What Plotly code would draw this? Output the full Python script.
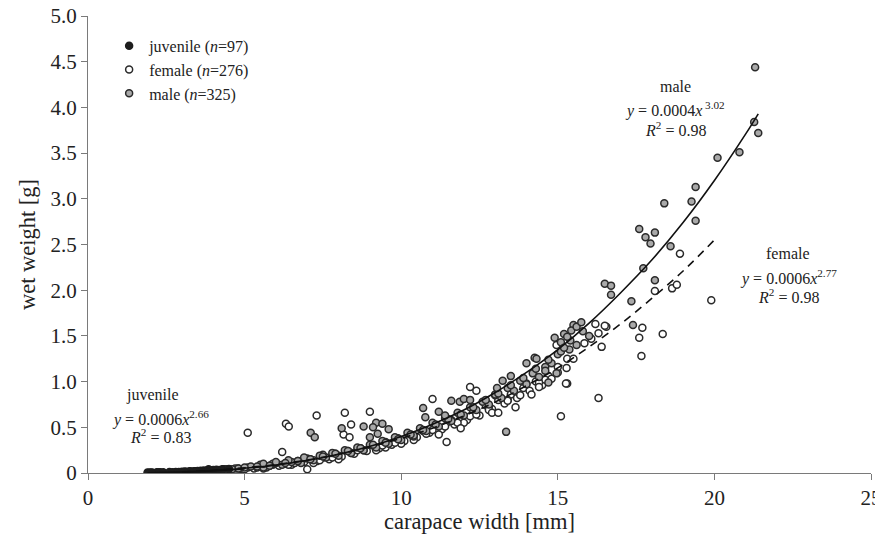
import plotly.graph_objects as go

FONT = "Liberation Serif"

# ---------------- data ----------------
juv_x = [1.9, 1.95, 2.0, 2.05, 2.2, 2.25, 2.3, 2.4, 2.6, 2.7, 2.8, 2.9, 3.0, 3.05, 3.1, 3.2,
         3.25, 3.3, 3.4, 3.45, 3.5, 3.6, 3.65, 3.7, 3.8, 3.85, 3.9, 4.0, 4.1, 4.2, 4.3, 4.5]
juv_y = [0.005, 0.004, 0.006, 0.005, 0.007, 0.006, 0.008, 0.007, 0.01, 0.009, 0.012, 0.011, 0.014,
         0.012, 0.016, 0.015, 0.018, 0.016, 0.02, 0.019, 0.022, 0.024, 0.02, 0.028, 0.026, 0.04,
         0.03, 0.033, 0.036, 0.034, 0.04, 0.045]

fem_x = [3.1, 3.4, 3.7, 3.9, 4.1, 4.3, 4.5, 4.7, 4.9, 5.1, 5.3, 5.5, 5.7, 5.9, 6.1, 6.3, 6.5, 6.7,
         6.9, 7.1, 7.3, 7.5, 7.7, 7.9, 8.1, 8.3, 8.5, 8.7, 8.9, 9.1, 9.3, 9.5, 9.7, 9.9, 10.1, 10.3,
         10.5, 10.7, 10.9, 11.1, 11.3, 11.5, 11.7, 11.9, 12.1, 12.3, 12.5, 12.7, 12.9, 13.1, 13.3,
         13.5, 13.7, 13.9, 14.1, 14.3, 14.5, 14.7, 15.0,
         5.0, 5.6, 6.0, 6.6, 7.2, 7.8, 8.6, 9.2, 9.8, 10.4, 11.0, 11.6, 12.2, 12.8, 13.4, 14.0, 14.6,
         7.5, 10.0, 12.0, 13.0, 11.2, 9.5, 8.0,
         4.4, 4.8, 5.4, 5.8, 6.4, 6.8, 7.4, 7.8, 8.4, 8.8, 9.4, 9.8, 10.4, 10.8, 11.4, 11.8, 12.4,
         12.8, 13.4, 13.8, 14.4, 14.8,
         5.1, 6.32, 6.41, 7.3, 6.2, 7.0, 8.2, 8.4, 8.16, 8.35, 9.0, 11.0, 11.45, 12.2, 12.4, 11.9,
         12.9, 13.1, 13.65, 14.4, 14.16, 15.3, 14.96, 15.3, 15.5, 15.85, 16.07, 15.28, 15.0, 16.55,
         16.2, 16.4, 16.3, 15.1, 16.5, 16.3, 17.7, 17.6, 17.67, 18.35, 18.1, 18.65, 18.8, 19.9,
         18.9, 15.26]
fem_y = [0.01, 0.02, 0.02, 0.03, 0.02, 0.04, 0.03, 0.05, 0.04, 0.06, 0.05, 0.07, 0.06, 0.09, 0.08,
         0.10, 0.09, 0.13, 0.12, 0.15, 0.13, 0.17, 0.15, 0.21, 0.18, 0.24, 0.21, 0.27, 0.24, 0.30,
         0.27, 0.34, 0.31, 0.38, 0.35, 0.42, 0.39, 0.46, 0.44, 0.52, 0.48, 0.56, 0.53, 0.61, 0.58,
         0.67, 0.63, 0.74, 0.70, 0.80, 0.76, 0.86, 0.82, 0.93, 0.90, 1.00, 0.96, 1.06, 1.10,
         0.04, 0.05, 0.11, 0.11, 0.11, 0.19, 0.25, 0.25, 0.36, 0.36, 0.47, 0.58, 0.62, 0.73, 0.80,
         0.98, 1.02,
         0.20, 0.32, 0.55, 0.85, 0.42, 0.28, 0.15,
         0.04, 0.05, 0.06, 0.08, 0.09, 0.12, 0.14, 0.17, 0.22, 0.25, 0.30, 0.33, 0.40, 0.43, 0.51,
         0.55, 0.64, 0.69, 0.79, 0.85, 0.99, 1.03,
         0.44, 0.54, 0.51, 0.63, 0.23, 0.04, 0.66, 0.53, 0.42, 0.39, 0.67, 0.81, 0.34, 0.94, 0.90,
         0.49, 0.66, 0.66, 0.72, 0.94, 0.86, 0.98, 1.40, 1.25, 1.25, 1.42, 1.47, 1.15, 1.16, 1.60,
         1.63, 1.38, 0.82, 0.62, 1.61, 1.53, 1.59, 1.48, 1.28, 1.52, 1.99, 2.02, 2.06, 1.89,
         2.40, 0.98]

male_x = [3.6, 4.0, 4.4, 4.8, 5.2, 5.5, 5.6, 5.9, 6.2, 6.5, 6.8, 7.0, 7.2, 7.4, 7.6, 7.8, 8.0, 8.2,
          8.4, 8.6, 8.8, 9.0, 9.2, 9.4, 9.6, 9.8, 10.0, 10.2, 10.4, 10.6, 10.8, 11.0, 11.2, 11.4,
          11.6, 11.8, 12.0, 12.2, 12.4, 12.6, 12.8, 13.0, 13.2, 13.4, 13.6, 13.8, 14.0, 14.2, 14.4,
          14.6, 14.8, 15.0, 15.2, 15.4, 15.5, 15.6, 15.8, 16.0,
          5.6, 6.0, 6.4, 6.9,
          4.2, 4.6, 5.0, 5.4, 5.8, 6.3, 6.7, 7.1, 7.5, 7.9, 8.3, 8.7, 9.1, 9.5, 9.9, 10.3, 10.7,
          11.1, 11.5, 11.9, 12.3, 12.7, 13.1, 13.5, 13.9, 14.3, 14.7, 15.1,
          7.11, 7.24, 8.1, 8.8, 9.2, 9.4, 9.1, 9.6, 9.0, 9.25, 10.7, 10.77, 11.6, 11.87, 12.0, 12.2,
          11.2, 11.4, 13.06, 13.35, 13.5, 13.24, 14.0, 14.26, 14.32, 14.6, 14.7, 14.9, 15.1, 15.3,
          15.43, 15.6, 15.75, 15.37, 15.2, 14.96, 16.5, 16.7, 16.7, 17.35, 17.4, 17.73, 18.1, 17.6,
          17.8, 17.96, 18.1, 18.6, 18.4, 19.4, 19.27, 19.4, 20.1, 20.8, 21.3, 21.27, 21.4]
male_y = [0.02, 0.03, 0.04, 0.05, 0.07, 0.09, 0.06, 0.10, 0.09, 0.12, 0.11, 0.16, 0.14, 0.19, 0.17,
          0.22, 0.19, 0.25, 0.22, 0.28, 0.25, 0.31, 0.28, 0.35, 0.32, 0.39, 0.36, 0.44, 0.41, 0.49,
          0.46, 0.55, 0.51, 0.60, 0.57, 0.66, 0.63, 0.72, 0.69, 0.78, 0.75, 0.86, 0.82, 0.93, 0.90,
          1.01, 0.97, 1.09, 1.05, 1.16, 1.20, 1.30, 1.52, 1.45, 1.62, 1.40, 1.55, 1.50,
          0.10, 0.12, 0.14, 0.17,
          0.03, 0.04, 0.06, 0.07, 0.08, 0.11, 0.13, 0.15, 0.18, 0.21, 0.24, 0.27, 0.31, 0.33, 0.37,
          0.42, 0.47, 0.53, 0.59, 0.64, 0.72, 0.80, 0.87, 0.96, 1.04, 1.14, 1.24, 1.33,
          0.44, 0.39, 0.49, 0.51, 0.55, 0.54, 0.50, 0.48, 0.39, 0.43, 0.71, 0.61, 0.79, 0.78, 0.81,
          0.80, 0.67, 0.63, 0.93, 0.45, 1.06, 1.01, 1.20, 1.26, 1.25, 1.12, 0.99, 1.48, 1.43, 1.49,
          1.56, 1.60, 1.65, 1.35, 1.37, 1.09, 2.07, 2.05, 1.95, 1.88, 1.62, 2.24, 2.11, 2.67, 2.58,
          2.51, 2.63, 2.48, 2.95, 3.13, 2.97, 2.76, 3.45, 3.51, 4.44, 3.84, 3.72]

# fitted curves as drawn in the picture
male_fit_x = [3.0, 4.0, 6.0, 8.0, 10.0, 12.0, 13.0, 14.0, 15.0, 16.0, 17.0, 18.0, 19.0, 20.0, 21.0, 21.4]
male_fit_y = [0.011, 0.026, 0.086, 0.205, 0.40, 0.69, 0.88, 1.10, 1.35, 1.64, 1.97, 2.33, 2.74, 3.20, 3.71, 3.93]
fem_fit_x = [3.0, 4.0, 6.0, 8.0, 10.0, 11.0, 12.0, 13.0, 14.0, 15.0, 16.0, 17.0, 18.0, 19.0, 20.0]
fem_fit_y = [0.014, 0.030, 0.093, 0.205, 0.379, 0.49, 0.625, 0.776, 0.956, 1.15, 1.38, 1.63, 1.91, 2.21, 2.55]
juv_fit_x = [1.9, 2.5, 3.0, 3.5, 4.0, 4.5, 5.0]
juv_fit_y = [0.003, 0.007, 0.011, 0.017, 0.024, 0.033, 0.044]

x_ticks = [0, 5, 10, 15, 20, 25]
y_ticks = [0, 0.5, 1.0, 1.5, 2.0, 2.5, 3.0, 3.5, 4.0, 4.5, 5.0]
y_ticklabels = ["0", "0.5", "1.0", "1.5", "2.0", "2.5", "3.0", "3.5", "4.0", "4.5", "5.0"]

# ---------------- figure ----------------
fig = go.Figure()
edge = "#2a2a2a"
fig.add_trace(go.Scatter(x=fem_x, y=fem_y, mode="markers", name="female (<i>n</i>=276)",
                         legendrank=2, legendgroup="f",
                         marker=dict(size=7, color="white", line=dict(color=edge, width=1.5))))
fig.add_trace(go.Scatter(x=male_x, y=male_y, mode="markers", name="male (<i>n</i>=325)",
                         legendrank=3, legendgroup="m",
                         marker=dict(size=7, color="#a9a9a9", line=dict(color=edge, width=1.5))))
fig.add_trace(go.Scatter(x=juv_x, y=juv_y, mode="markers", name="juvenile (<i>n</i>=97)",
                         legendrank=1, legendgroup="j",
                         marker=dict(size=7, color="#1e1e1e", line=dict(color="#1e1e1e", width=1.5))))
fig.add_trace(go.Scatter(x=male_fit_x, y=male_fit_y, mode="lines", line_shape="spline",
                         showlegend=False, line=dict(color="#111", width=1.6)))
fig.add_trace(go.Scatter(x=fem_fit_x, y=fem_fit_y, mode="lines", line_shape="spline",
                         showlegend=False, line=dict(color="#111", width=1.6, dash="8px,6px")))
fig.add_trace(go.Scatter(x=juv_fit_x, y=juv_fit_y, mode="lines", line_shape="spline",
                         showlegend=False, line=dict(color="#111", width=1.6)))

ann_font = dict(family=FONT, size=16, color="#222")
labels = [
    (18.75, 4.23, "male"), (18.75, 3.98, "<i>y</i> = 0.0004<i>x</i><sup> 3.02</sup>"),
    (18.75, 3.76, "<i>R</i><sup>2</sup> = 0.98"),
    (22.35, 2.4, "female"), (22.35, 2.14, "<i>y</i> = 0.0006<i>x</i><sup>2.77</sup>"),
    (22.35, 1.94, "<i>R</i><sup>2</sup> = 0.98"),
    (2.07, 0.85, "juvenile"), (2.3, 0.6, "<i>y</i> = 0.0006<i>x</i><sup>2.66</sup>"),
    (2.3, 0.41, "<i>R</i><sup>2</sup> = 0.83"),
]
for x, y, t in labels:
    fig.add_annotation(x=x, y=y, text=t, showarrow=False, font=ann_font,
                       xanchor="center", yanchor="middle")

axis_common = dict(showline=True, linecolor="#7a7a7a", linewidth=1.2, ticks="outside",
                   ticklen=6, tickcolor="#7a7a7a", tickwidth=1.2, showgrid=False,
                   zeroline=False, ticklabeloverflow="allow",
                   tickfont=dict(family=FONT, size=21, color="#222"))
fig.update_xaxes(range=[0, 25], tickvals=x_ticks, **axis_common,
                 title=dict(text="carapace width [mm]", font=dict(family=FONT, size=22.5, color="#222"),
                            standoff=4))
fig.update_yaxes(range=[0, 5], tickvals=y_ticks, ticktext=y_ticklabels, **axis_common,
                 title=dict(text="wet weight [g]", font=dict(family=FONT, size=22.5, color="#222"),
                            standoff=8))

# the page body has an 8px margin, so the figure is shifted by 8px; compensate and
# keep the page within the window so that no vertical scrollbar appears
fig.update_layout(
    width=875, height=526, plot_bgcolor="white", paper_bgcolor="white",
    margin=dict(l=80, r=12, t=8, b=61, autoexpand=False),
    font=dict(family=FONT, color="#222"),
    legend=dict(x=0.027, y=0.972, xanchor="left", yanchor="top", bgcolor="rgba(0,0,0,0)",
                font=dict(family=FONT, size=16, color="#222"), tracegroupgap=0,
                itemwidth=30),
)
fig.write_html("out.html")
